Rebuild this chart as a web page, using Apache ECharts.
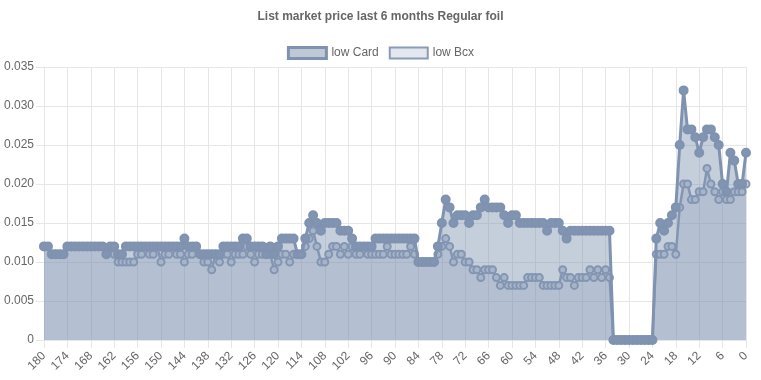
<!DOCTYPE html>
<html>
<head>
<meta charset="utf-8">
<script src="https://cdn.jsdelivr.net/npm/echarts@6/dist/echarts.min.js"></script>
<style>
html,body{margin:0;padding:0;background:#fff;}
#chart{width:761px;height:380px;}
</style>
</head>
<body>
<div id="chart"></div>
<script>
var titleText = 'List market price last 6 months Regular foil';
var seriesNames = ['low Card', 'low Bcx'];
var days = [
'180','179','178','177','176','175','174','173','172','171',
'170','169','168','167','166','165','164','163','162','161',
'160','159','158','157','156','155','154','153','152','151',
'150','149','148','147','146','145','144','143','142','141',
'140','139','138','137','136','135','134','133','132','131',
'130','129','128','127','126','125','124','123','122','121',
'120','119','118','117','116','115','114','113','112','111',
'110','109','108','107','106','105','104','103','102','101',
'100','99','98','97','96','95','94','93','92','91',
'90','89','88','87','86','85','84','83','82','81',
'80','79','78','77','76','75','74','73','72','71',
'70','69','68','67','66','65','64','63','62','61',
'60','59','58','57','56','55','54','53','52','51',
'50','49','48','47','46','45','44','43','42','41',
'40','39','38','37','36','35','34','33','32','31',
'30','29','28','27','26','25','24','23','22','21',
'20','19','18','17','16','15','14','13','12','11',
'10','9','8','7','6','5','4','3','2','1',
'0'];
var lowCard = [
0.012,0.012,0.011,0.011,0.011,0.011,0.012,0.012,0.012,0.012,
0.012,0.012,0.012,0.012,0.012,0.012,0.011,0.012,0.012,0.011,
0.011,0.012,0.012,0.012,0.012,0.012,0.012,0.012,0.012,0.012,
0.012,0.012,0.012,0.012,0.012,0.012,0.013,0.012,0.012,0.012,
0.011,0.011,0.011,0.011,0.011,0.011,0.012,0.012,0.012,0.012,
0.012,0.013,0.013,0.012,0.012,0.012,0.012,0.011,0.012,0.011,
0.012,0.013,0.013,0.013,0.013,0.011,0.011,0.013,0.015,0.016,
0.015,0.014,0.015,0.015,0.015,0.015,0.014,0.014,0.014,0.013,
0.012,0.012,0.012,0.012,0.012,0.013,0.013,0.013,0.013,0.013,
0.013,0.013,0.013,0.013,0.013,0.013,0.010,0.010,0.010,0.010,
0.010,0.012,0.015,0.018,0.017,0.015,0.016,0.016,0.016,0.015,
0.016,0.016,0.017,0.018,0.017,0.017,0.017,0.017,0.016,0.015,
0.016,0.016,0.015,0.015,0.015,0.015,0.015,0.015,0.015,0.014,
0.015,0.015,0.015,0.014,0.013,0.014,0.014,0.014,0.014,0.014,
0.014,0.014,0.014,0.014,0.014,0.014,0,0,0,0,
0,0,0,0,0,0,0,0.013,0.015,0.014,
0.015,0.016,0.017,0.025,0.032,0.027,0.027,0.026,0.024,0.026,
0.027,0.027,0.026,0.025,0.020,0.019,0.024,0.023,0.020,0.020,
0.024];
var lowBcx = [
0.012,0.012,0.011,0.011,0.011,0.011,0.012,0.012,0.012,0.012,
0.012,0.012,0.012,0.012,0.012,0.012,0.011,0.012,0.011,0.010,
0.010,0.010,0.010,0.010,0.011,0.011,0.012,0.011,0.011,0.012,
0.010,0.011,0.011,0.012,0.011,0.011,0.010,0.011,0.011,0.012,
0.011,0.010,0.010,0.009,0.011,0.010,0.011,0.011,0.010,0.011,
0.011,0.011,0.012,0.011,0.010,0.011,0.011,0.011,0.011,0.009,
0.010,0.011,0.011,0.010,0.011,0.011,0.011,0.012,0.013,0.014,
0.012,0.010,0.010,0.011,0.012,0.012,0.011,0.012,0.011,0.012,
0.011,0.011,0.012,0.011,0.011,0.011,0.011,0.011,0.012,0.011,
0.011,0.011,0.011,0.011,0.012,0.011,0.010,0.010,0.010,0.010,
0.010,0.011,0.012,0.013,0.012,0.010,0.011,0.011,0.010,0.010,
0.009,0.009,0.008,0.009,0.009,0.009,0.008,0.007,0.008,0.007,
0.007,0.007,0.007,0.007,0.008,0.008,0.008,0.008,0.007,0.007,
0.007,0.007,0.007,0.009,0.008,0.008,0.007,0.008,0.008,0.008,
0.009,0.008,0.009,0.008,0.009,0.008,0,0,0,0,
0,0,0,0,0,0,0,0.011,0.011,0.011,
0.012,0.012,0.011,0.017,0.020,0.020,0.018,0.018,0.019,0.019,
0.022,0.020,0.019,0.018,0.019,0.018,0.018,0.019,0.019,0.019,
0.020];
var yTicks = [0, 0.005, 0.010, 0.015, 0.020, 0.025, 0.030, 0.035];

var FONT = '"Liberation Sans", Arial, Helvetica, sans-serif';
var TXT = '#666666';
var GRIDC = '#e6e6e6';

var chart = echarts.init(document.getElementById('chart'), null, {renderer: 'canvas'});
chart.setOption({
  animation: false,
  backgroundColor: '#ffffff',
  textStyle: {fontFamily: FONT},
  title: {
    text: titleText,
    left: 'center',
    top: 6,
    textStyle: {fontFamily: FONT, fontSize: 12, fontWeight: 'bold', color: TXT}
  },
  legend: {
    top: 41,
    left: 'center',
    icon: 'rect',
    itemWidth: 38,
    itemHeight: 11,
    itemGap: 10,
    textStyle: {fontFamily: FONT, fontSize: 12, color: TXT},
    data: [
      {name: seriesNames[0], itemStyle: {color: 'rgba(127,146,176,0.5)', borderColor: '#7f92b0', borderWidth: 3, opacity: 1}},
      {name: seriesNames[1], itemStyle: {color: 'rgba(127,146,176,0.22)', borderColor: '#8a9bb6', borderWidth: 2, opacity: 1}}
    ]
  },
  grid: {left: 44, right: 15, top: 67, bottom: 40, containLabel: false},
  xAxis: {
    type: 'category',
    data: days,
    boundaryGap: false,
    axisLine: {show: true, lineStyle: {color: GRIDC}},
    axisTick: {show: true, interval: 5, length: 8, lineStyle: {color: GRIDC}},
    axisLabel: {interval: 5, rotate: 45, color: TXT, fontSize: 12, fontFamily: FONT, margin: 14},
    splitLine: {show: true, interval: 5, lineStyle: {color: GRIDC}}
  },
  yAxis: {
    type: 'value',
    min: yTicks[0],
    max: yTicks[yTicks.length - 1],
    interval: 0.005,
    axisLine: {show: true, lineStyle: {color: GRIDC}},
    axisTick: {show: true, length: 8, lineStyle: {color: GRIDC}},
    axisLabel: {
      color: TXT, fontSize: 12, fontFamily: FONT, margin: 10,
      formatter: function (v) { return v === 0 ? '0' : v.toFixed(3); }
    },
    splitLine: {show: true, lineStyle: {color: GRIDC}}
  },
  series: [
    {
      name: seriesNames[1],
      type: 'line',
      data: lowBcx,
      z: 2,
      symbol: 'circle',
      symbolSize: 7,
      showAllSymbol: true,
      lineStyle: {width: 2.5, color: '#8798b4'},
      itemStyle: {color: '#c9d1de', borderColor: '#8798b4', borderWidth: 2},
      areaStyle: {color: 'rgba(127,146,176,0.23)', opacity: 1, origin: 'start'}
    },
    {
      name: seriesNames[0],
      type: 'line',
      data: lowCard,
      z: 3,
      symbol: 'circle',
      symbolSize: 8,
      showAllSymbol: true,
      lineStyle: {width: 3, color: '#7f92b0'},
      itemStyle: {color: '#8194b1', borderColor: '#7f92b0', borderWidth: 2},
      areaStyle: {color: 'rgba(127,146,176,0.45)', opacity: 1, origin: 'start'}
    }
  ]
});
</script>
</body>
</html>
